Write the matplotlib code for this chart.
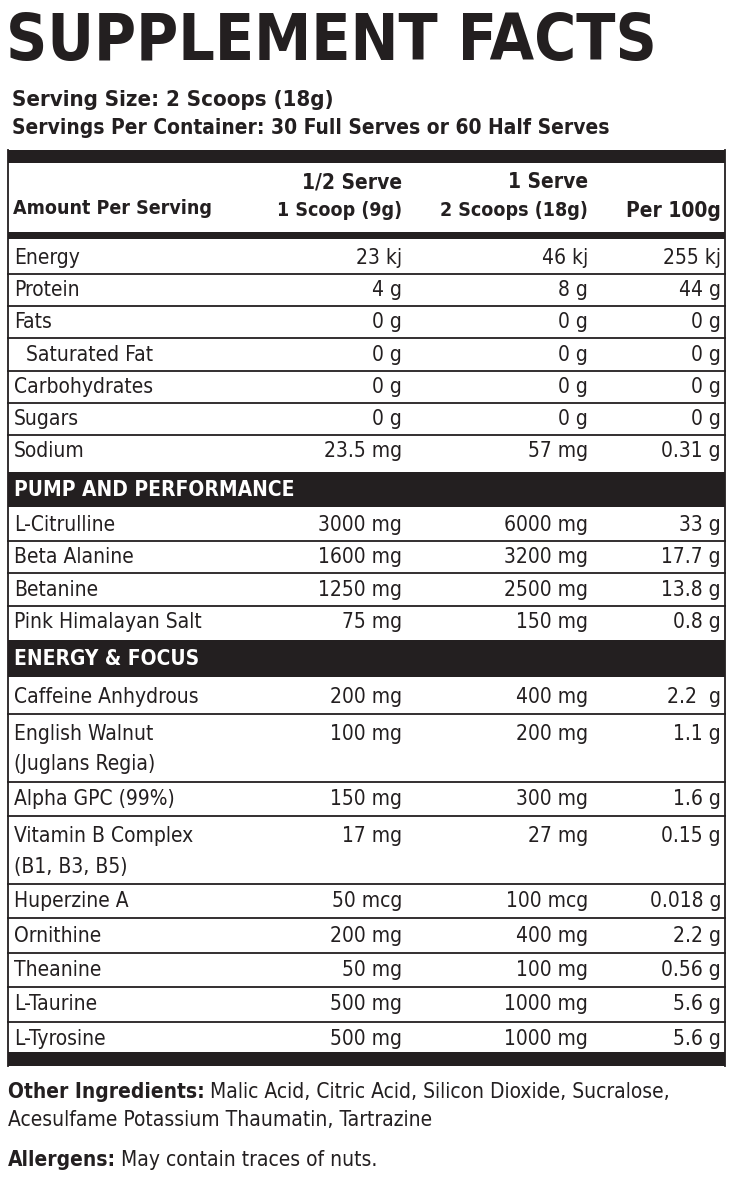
import matplotlib
matplotlib.use("Agg")
import matplotlib.pyplot as plt
from matplotlib import font_manager

# pick a narrow font if one is installed
_names = {f.name for f in font_manager.fontManager.ttflist}
FONT = "Liberation Sans Narrow" if "Liberation Sans Narrow" in _names else (
    "DejaVu Sans" if "DejaVu Sans" in _names else "sans-serif")
STRETCH = "condensed"

# ---- data ----
basic_names = ["Energy", "Protein", "Fats", "  Saturated Fat", "Carbohydrates", "Sugars", "Sodium"]
basic_half = ["23 kj", "4 g", "0 g", "0 g", "0 g", "0 g", "23.5 mg"]
basic_full = ["46 kj", "8 g", "0 g", "0 g", "0 g", "0 g", "57 mg"]
basic_100 = ["255 kj", "44 g", "0 g", "0 g", "0 g", "0 g", "0.31 g"]

pump_names = ["L-Citrulline", "Beta Alanine", "Betanine", "Pink Himalayan Salt"]
pump_half = ["3000 mg", "1600 mg", "1250 mg", "75 mg"]
pump_full = ["6000 mg", "3200 mg", "2500 mg", "150 mg"]
pump_100 = ["33 g", "17.7 g", "13.8 g", "0.8 g"]

focus_names = ["Caffeine Anhydrous", "English Walnut\n(Juglans Regia)", "Alpha GPC (99%)",
               "Vitamin B Complex\n(B1, B3, B5)", "Huperzine A", "Ornithine", "Theanine",
               "L-Taurine", "L-Tyrosine"]
focus_half = ["200 mg", "100 mg", "150 mg", "17 mg", "50 mcg", "200 mg", "50 mg", "500 mg", "500 mg"]
focus_full = ["400 mg", "200 mg", "300 mg", "27 mg", "100 mcg", "400 mg", "100 mg", "1000 mg", "1000 mg"]
focus_100 = ["2.2  g", "1.1 g", "1.6 g", "0.15 g", "0.018 g", "2.2 g", "0.56 g", "5.6 g", "5.6 g"]

W, H = 734, 1182
fig = plt.figure(figsize=(W / 100, H / 100), dpi=100)
ax = fig.add_axes([0, 0, 1, 1])
ax.set_xlim(0, W)
ax.set_ylim(H, 0)
ax.axis("off")
renderer = fig.canvas.get_renderer()

L, R = 8, 725
X_HALF, X_FULL, X_100 = 402, 588, 721
FS = 15
INK = "#231f20"


def bar(y0, y1):
    ax.fill_between([L, R], y0, y1, color=INK, lw=0)


def hline(y):
    ax.plot([L, R], [y, y], color=INK, lw=1.3)


def txt(x, y, s, ha="left", **kw):
    kw.setdefault("fontsize", FS)
    kw.setdefault("color", INK)
    return ax.text(x, y, s, ha=ha, va="center", family=FONT, fontstretch=STRETCH, **kw)


def width(t):
    return t.get_window_extent(renderer).width


def fit(t, target):
    # scale fontsize so text spans target pixels
    t.set_fontsize(t.get_fontsize() * target / width(t))


# title and serving info
t = txt(6, 42, "SUPPLEMENT FACTS", fontsize=50, fontweight="bold")
fit(t, 652)
fit(txt(12, 100, "Serving Size: 2 Scoops (18g)", fontweight="bold"), 322)
fit(txt(12, 128, "Servings Per Container: 30 Full Serves or 60 Half Serves", fontweight="bold"), 598)

bar(150, 163)
txt(X_HALF, 182, "1/2 Serve", ha="right", fontweight="bold")
txt(X_HALF, 211, "1 Scoop (9g)", ha="right", fontweight="bold", fontsize=FS - 1)
txt(X_FULL, 182, "1 Serve", ha="right", fontweight="bold")
txt(X_FULL, 211, "2 Scoops (18g)", ha="right", fontweight="bold", fontsize=FS - 1)
txt(X_100, 211, "Per 100g", ha="right", fontweight="bold")
txt(13, 209, "Amount Per Serving", fontweight="bold", fontsize=FS - 1)
bar(232, 239)


def row(y, n, v1, v2, v3):
    txt(14, y, n)
    txt(X_HALF, y, v1, ha="right")
    txt(X_FULL, y, v2, ha="right")
    txt(X_100, y, v3, ha="right")


y = 258
for i, vals in enumerate(zip(basic_names, basic_half, basic_full, basic_100)):
    row(y, *vals)
    if i < len(basic_names) - 1:
        hline(y + 16)
    y += 32.2

bar(472, 507)
txt(14, 490, "PUMP AND PERFORMANCE", fontweight="bold", color="white")

y = 525
for i, vals in enumerate(zip(pump_names, pump_half, pump_full, pump_100)):
    row(y, *vals)
    if i < len(pump_names) - 1:
        hline(y + 16)
    y += 32.4

bar(640, 677)
txt(14, 659, "ENERGY & FOCUS", fontweight="bold", color="white")

y = 697
for i, (n, v1, v2, v3) in enumerate(zip(focus_names, focus_half, focus_full, focus_100)):
    two = "\n" in n
    if two:
        y += 2
        first, second = n.split("\n")
        row(y, first, v1, v2, v3)
        txt(14, y + 31, second)
    else:
        row(y, n, v1, v2, v3)
    bottom = y + (31 if two else 0) + 17
    if i < len(focus_names) - 1:
        hline(bottom)
    y = bottom + 17.5

bar(1052, 1066)
ax.plot([L, L], [150, 1066], color=INK, lw=1.3)
ax.plot([R, R], [150, 1066], color=INK, lw=1.3)

# footer, plain text placed after the measured bold label
lab = txt(8, 1092, "Other Ingredients:", fontweight="bold")
rest = txt(8 + width(lab) + 5, 1092, "Malic Acid, Citric Acid, Silicon Dioxide, Sucralose,")
if rest.get_window_extent(renderer).x1 > W - 8:
    rest.set_fontsize(FS * (W - 16 - width(lab) - 5) / width(rest))
txt(8, 1120, "Acesulfame Potassium Thaumatin, Tartrazine")
lab = txt(8, 1160, "Allergens:", fontweight="bold")
txt(8 + width(lab) + 5, 1160, "May contain traces of nuts.")

fig.savefig("out.png", dpi=100)
